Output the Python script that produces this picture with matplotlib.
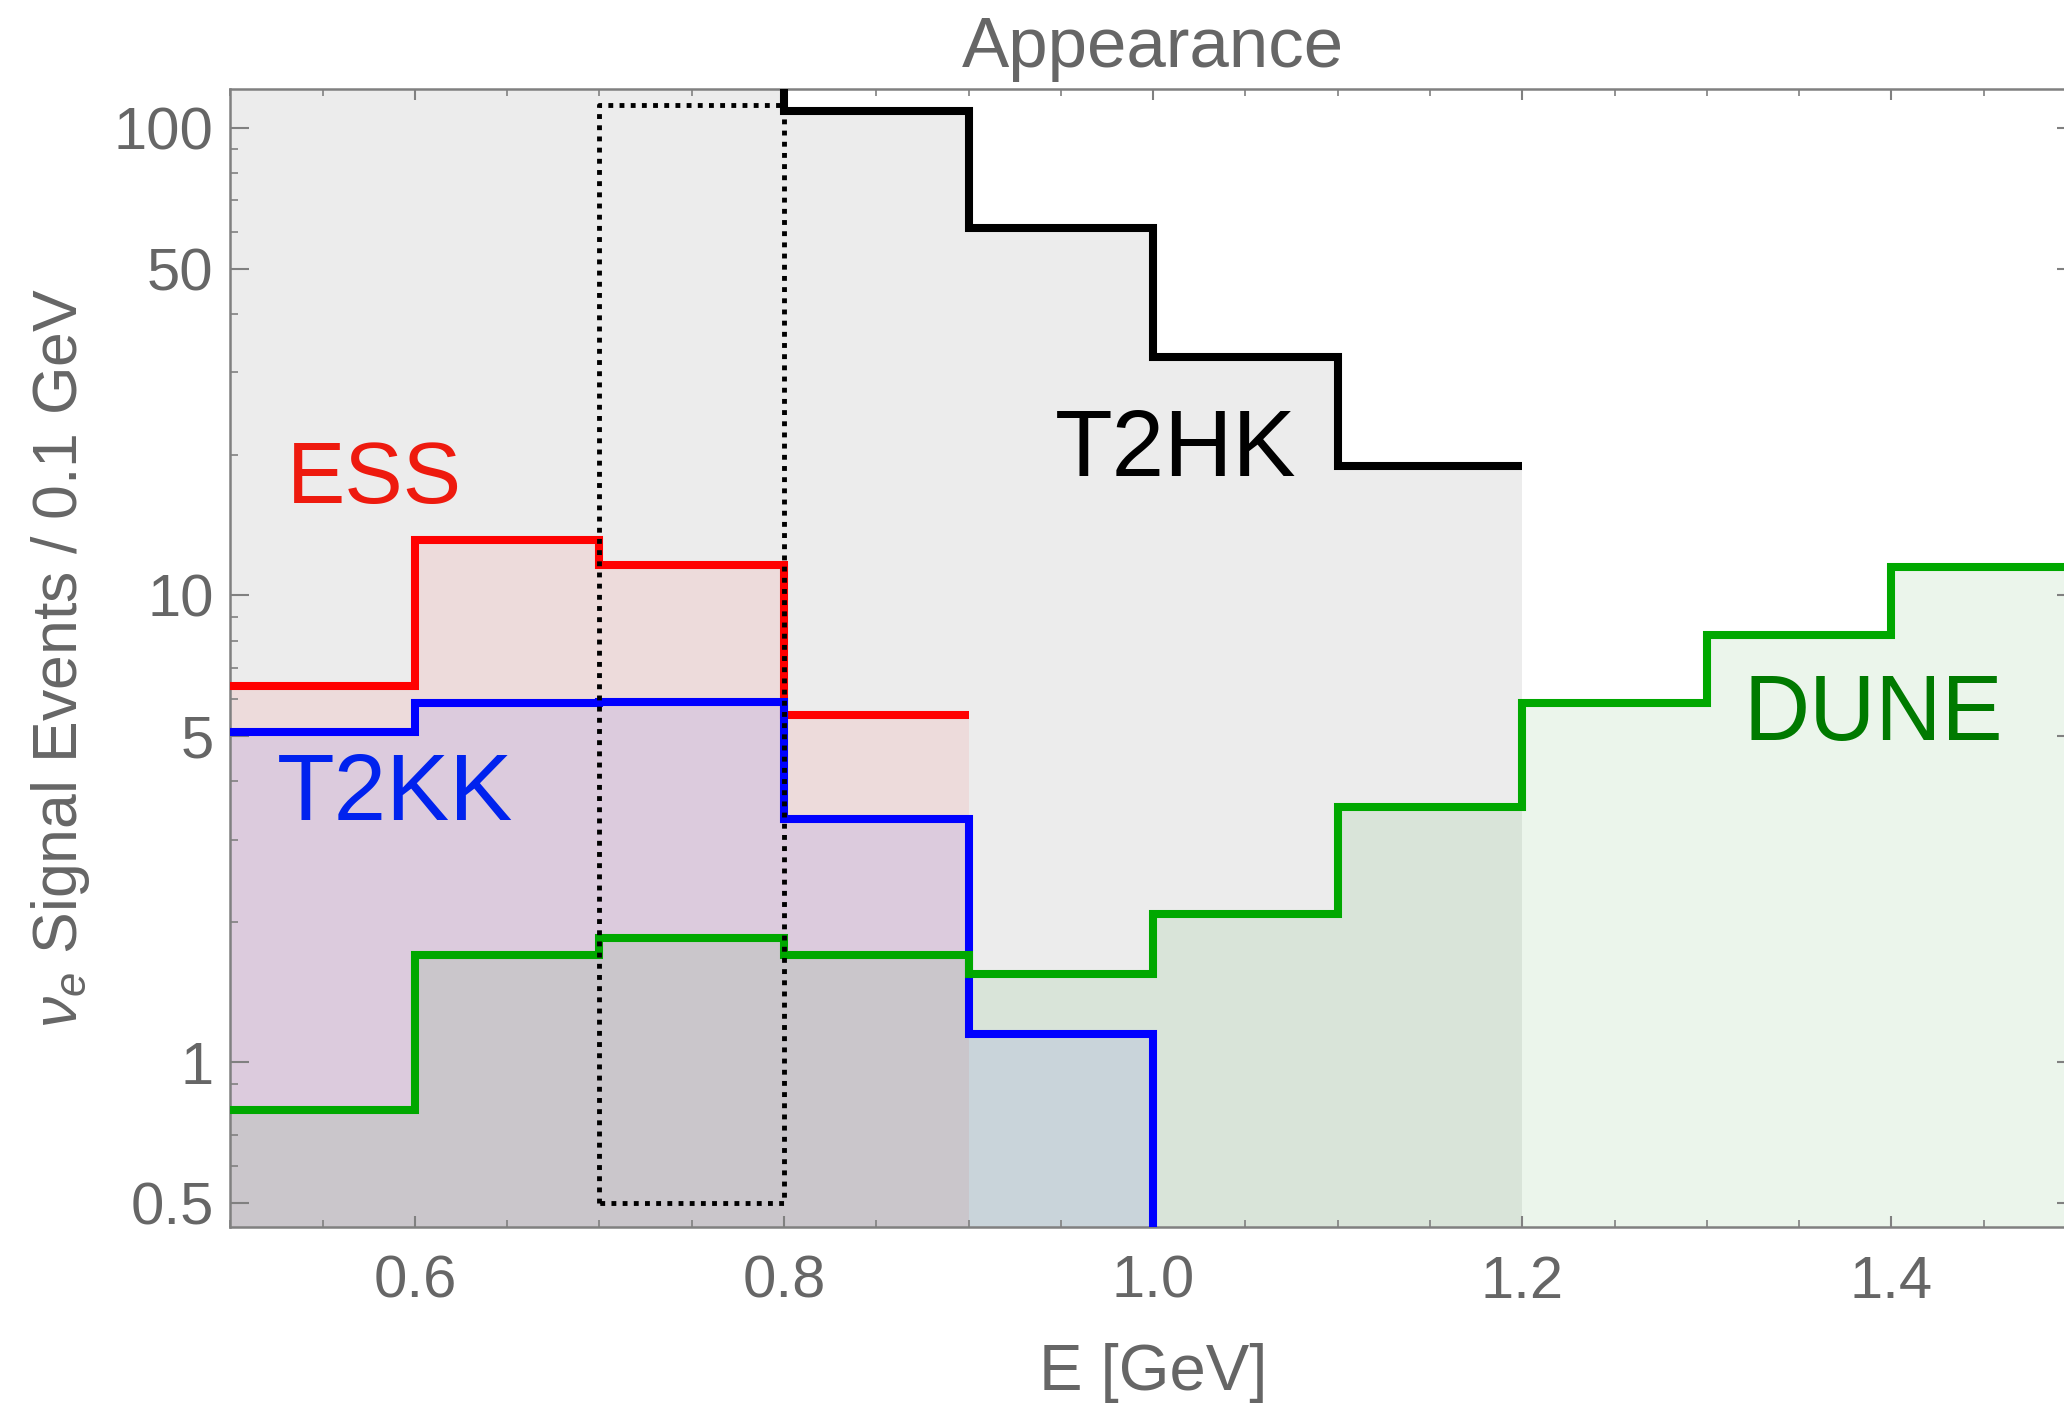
import numpy as np
import matplotlib.pyplot as plt
from matplotlib.ticker import FixedLocator, NullFormatter

# bin edges in GeV (0.1 GeV bins)
energy_edges = [0.5, 0.6, 0.7, 0.8, 0.9, 1.0, 1.1, 1.2, 1.3, 1.4, 1.5]

# signal events per bin, starting from the 0.5 GeV bin
t2hk_events = [150, 150, 150, 109, 61, 32.4, 18.9]
ess_events = [6.4, 13.1, 11.6, 5.55]
t2kk_events = [5.09, 5.88, 5.92, 3.32, 1.15]
dune_events = [0.79, 1.70, 1.85, 1.70, 1.55, 2.08, 3.52, 5.88, 8.23, 11.5]

# dotted box marking the 0.7-0.8 GeV bin
box_x = [0.7, 0.8]
box_y = [0.5, 112]

y_major = [0.5, 1, 5, 10, 50, 100]
y_major_labels = ['0.5', '1', '5', '10', '50', '100']
y_minor = [0.6, 0.7, 0.8, 0.9, 2, 3, 4, 6, 7, 8, 9, 20, 30, 40, 60, 70, 80, 90]
x_major = [0.6, 0.8, 1.0, 1.2, 1.4]
x_major_labels = ['0.6', '0.8', '1.0', '1.2', '1.4']

GRAY = '#666666'
FLOOR = 0.01


def draw_hist(ax, vals, line_color, fill_color, fill_alpha, drop=False, lw=5.8):
    x = energy_edges[:len(vals) + 1]
    y = list(vals) + [vals[-1]]
    ax.fill_between(x, y, FLOOR, step='post', color=fill_color,
                    alpha=fill_alpha, lw=0, zorder=1)
    yl = list(vals) + ([FLOOR] if drop else [vals[-1]])
    ax.step(x, yl, where='post', color=line_color, lw=lw,
            solid_joinstyle='miter', solid_capstyle='butt', zorder=3)


def main():
    plt.rcParams['font.family'] = ['Liberation Sans', 'DejaVu Sans']
    plt.rcParams['mathtext.fontset'] = 'custom'
    plt.rcParams['mathtext.it'] = 'Liberation Sans:italic'
    plt.rcParams['mathtext.rm'] = 'Liberation Sans'

    fig = plt.figure(figsize=(20.64, 14.06), dpi=100)
    ax = fig.add_axes([0.1116, 0.1275, 0.8942, 0.8089])

    draw_hist(ax, t2hk_events, 'black', 'black', 0.075)
    draw_hist(ax, ess_events, '#ff0000', '#ff0000', 0.07)
    draw_hist(ax, t2kk_events, '#0000ff', '#0000ff', 0.07, drop=True)
    draw_hist(ax, dune_events, '#00a800', '#008c00', 0.08)

    ax.plot([box_x[0], box_x[0], box_x[1], box_x[1], box_x[0]],
            [box_y[0], box_y[1], box_y[1], box_y[0], box_y[0]],
            color='black', lw=3.5, ls=(0, (1.0, 1.3)), zorder=4)

    ax.set_yscale('log')
    ax.set_xlim(0.5, 1.5)
    ax.set_ylim(0.445, 121)

    ax.yaxis.set_major_locator(FixedLocator(y_major))
    ax.set_yticklabels(y_major_labels)
    ax.yaxis.set_minor_locator(FixedLocator(y_minor))
    ax.yaxis.set_minor_formatter(NullFormatter())
    ax.xaxis.set_major_locator(FixedLocator(x_major))
    ax.set_xticklabels(x_major_labels)
    ax.xaxis.set_minor_locator(FixedLocator(np.arange(0.5, 1.51, 0.05)))

    for s in ax.spines.values():
        s.set_color('#808080')
        s.set_linewidth(1.8)
    ax.tick_params(axis='both', which='both', direction='in', color='#808080',
                   top=True, right=True, labelcolor=GRAY, labelsize=43)
    ax.tick_params(axis='y', which='major', length=14, width=1.5, pad=12)
    ax.tick_params(axis='y', which='minor', length=6, width=1.2)
    ax.tick_params(axis='x', which='major', length=8, width=1.5, pad=20)
    ax.tick_params(axis='x', which='minor', length=5, width=1.2)

    ax.set_xlabel('E [GeV]', fontsize=47, color=GRAY, labelpad=24)
    ax.set_ylabel(r'$\nu_e$ Signal Events / 0.1 GeV', fontsize=45,
                  color=GRAY, labelpad=16)
    ax.set_title('Appearance', fontsize=51, color=GRAY, pad=16)

    ax.text(0.578, 17.6, 'ESS', color='#ee1a0e', fontsize=63,
            ha='center', va='center', zorder=5)
    ax.text(1.012, 20.3, 'T2HK', color='black', fontsize=68,
            ha='center', va='center', zorder=5)
    ax.text(0.589, 3.73, 'T2KK', color='#0022ee', fontsize=68,
            ha='center', va='center', zorder=5)
    ax.text(1.39, 5.51, 'DUNE', color='#007a00', fontsize=66,
            ha='center', va='center', zorder=5)

    fig.savefig('out.png', dpi=100)


if __name__ == '__main__':
    main()
